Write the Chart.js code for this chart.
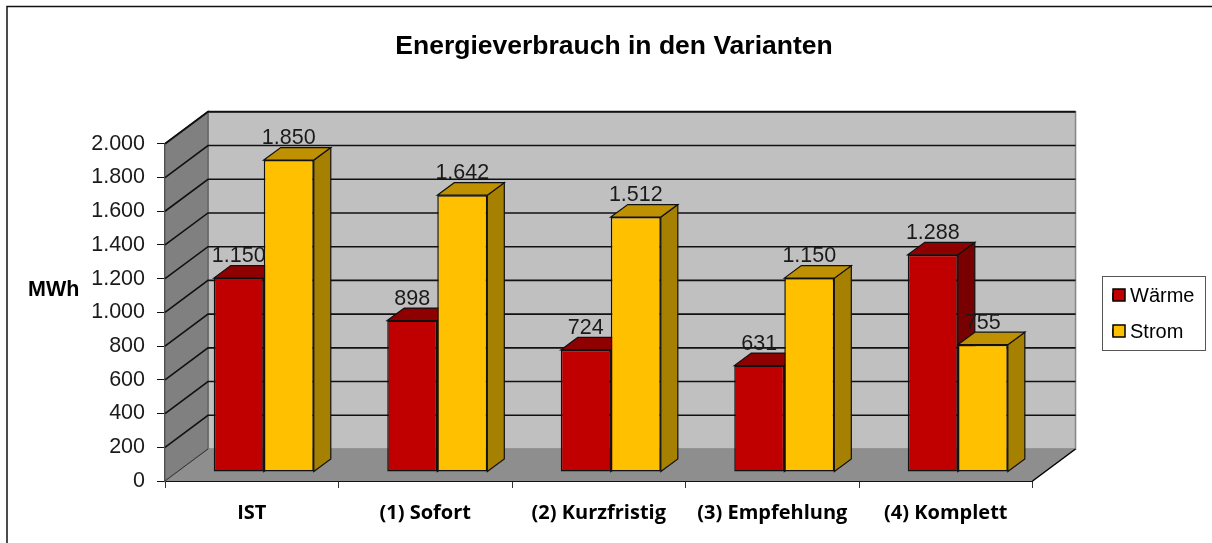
<!DOCTYPE html>
<html><head><meta charset="utf-8">
<style>html,body{margin:0;padding:0;background:#fff;overflow:hidden}canvas{display:block}</style>
<script src="https://cdn.jsdelivr.net/npm/chart.js@4/dist/chart.umd.min.js"></script>
</head><body><canvas id="c" width="1212" height="543"></canvas>
<script>
const categories = ["IST","(1) Sofort","(2) Kurzfristig","(3) Empfehlung","(4) Komplett"];
const waerme = [1150,898,724,631,1288];
const strom = [1850,1642,1512,1150,755];
const yTicks = [0,200,400,600,800,1000,1200,1400,1600,1800,2000];
const seriesNames = ["Wärme","Strom"];
const fmt = v => String(v).replace(/\B(?=(\d{3})+$)/g,".");

const WALL = {dx:43, dy:-32}, BAR = {dx:12, dy:-9}, SIDE = {dx:17, dy:-12.5};
const SHADES = [{top:"#8F0000",side:"#780000"},{top:"#BF9000",side:"#A68000"}];
const LEG = {left:1102,right:1205,top:276,bottom:350,itemX:1113,pad:16};

function poly(ctx,pts,fill,stroke,lw){
  ctx.beginPath();pts.forEach((p,i)=>i?ctx.lineTo(p[0],p[1]):ctx.moveTo(p[0],p[1]));ctx.closePath();
  if(fill){ctx.fillStyle=fill;ctx.fill();}
  if(stroke){ctx.strokeStyle=stroke;ctx.lineWidth=lw||1;ctx.stroke();}
}
function line(ctx,pts,color,lw){
  ctx.beginPath();pts.forEach((p,i)=>i?ctx.lineTo(p[0],p[1]):ctx.moveTo(p[0],p[1]));
  ctx.strokeStyle=color;ctx.lineWidth=lw;ctx.stroke();
}
const scene = {
  id:"scene",
  afterLayout(chart){
    if(chart.titleBlock){chart.titleBlock.left=16;chart.titleBlock.right=1212;}
    const l=chart.legend,w=l.width;
    l.left=LEG.itemX-LEG.pad;l.right=l.left+w;
    l.top+=2;l.bottom+=2;
  },
  beforeDatasetsDraw(chart){
    const {ctx,scales:{x,y}}=chart, L=x.left,R=x.right,B=y.bottom,T=y.top,dx=WALL.dx,dy=WALL.dy;
    ctx.save();
    poly(ctx,[[L+dx,T+dy],[R+dx,T+dy],[R+dx,B+dy],[L+dx,B+dy]],"#C0C0C0","#868686",1.5);
    poly(ctx,[[L,T],[L+dx,T+dy],[L+dx,B+dy],[L,B]],"#808080","#666666",1.5);
    poly(ctx,[[L,B],[L+dx,B+dy],[R+dx,B+dy],[R,B]],"#8E8E8E");
    line(ctx,[[L,B],[L+dx,B+dy]],"#333333",1);
    line(ctx,[[R,B],[R+dx,B+dy]],"#000000",1.5);
    yTicks.slice(1).forEach(v=>{
      const py=y.getPixelForValue(v);
      line(ctx,[[L,py],[L+dx,py+dy],[R+dx,py+dy]],"#111111",v===yTicks[yTicks.length-1]?2:1.6);
    });
    const count=categories.length;
    for(let i=0;i<count;i++){
      [0,1].forEach(d=>{
        const el=chart.getDatasetMeta(d).data[i];
        const xl=el.x-el.width/2+BAR.dx,xr=el.x+el.width/2+BAR.dx,yt=el.y+BAR.dy,yb=el.base+BAR.dy;
        const s=SHADES[d],k="#111111";
        poly(ctx,[[xr,yt],[xr+SIDE.dx,yt+SIDE.dy],[xr+SIDE.dx,yb+SIDE.dy],[xr,yb]],s.side,k,1.2);
        poly(ctx,[[xl,yt],[xl+SIDE.dx,yt+SIDE.dy],[xr+SIDE.dx,yt+SIDE.dy],[xr,yt]],s.top,k,1.2);
      });
    }
    ctx.restore();
  },
  beforeDatasetDraw(chart){chart.ctx.save();chart.ctx.translate(BAR.dx,BAR.dy);},
  afterDatasetDraw(chart){chart.ctx.restore();},
  afterDatasetsDraw(chart){
    const {ctx}=chart;
    ctx.save();
    ctx.font="21.5px 'Liberation Sans'";ctx.fillStyle="#1a1a1a";ctx.textAlign="center";ctx.textBaseline="middle";
    [0,1].forEach(d=>{
      chart.getDatasetMeta(d).data.forEach((el,i)=>{
        const v=chart.data.datasets[d].data[i];
        ctx.fillText(fmt(v),el.x+BAR.dx,el.y+BAR.dy-22);
      });
    });
    ctx.restore();
  },
  afterDraw(chart){
    const {ctx}=chart;
    ctx.save();
    line(ctx,[[7,543],[7,6.5],[1212,6.5]],"#111111",1.5);
    ctx.font="bold 21.5px 'Liberation Sans'";ctx.fillStyle="#000";ctx.textAlign="left";ctx.textBaseline="alphabetic";
    ctx.fillText("MWh",28,296);
    ctx.strokeStyle="#555";ctx.lineWidth=1;
    ctx.strokeRect(LEG.left+.5,LEG.top+.5,LEG.right-LEG.left,LEG.bottom-LEG.top);
    [0,1].forEach(d=>{
      const yc=d?331:295;
      ctx.fillStyle=chart.data.datasets[d].backgroundColor;
      ctx.fillRect(LEG.itemX,yc-6,12,12);
      ctx.strokeStyle="#000";ctx.lineWidth=1.5;ctx.strokeRect(LEG.itemX,yc-6,12,12);
    });
    ctx.restore();
  }
};
new Chart(document.getElementById("c"),{
  type:"bar",
  data:{labels:categories,datasets:[
    {label:seriesNames[0],data:waerme,backgroundColor:"#C00000",borderColor:"#111111",borderWidth:1.5,borderSkipped:false},
    {label:seriesNames[1],data:strom,backgroundColor:"#FFC000",borderColor:"#111111",borderWidth:1.5,borderSkipped:false}
  ]},
  options:{
    responsive:false,animation:false,
    layout:{autoPadding:false,padding:{left:0,right:72,top:0,bottom:0}},
    datasets:{bar:{categoryPercentage:0.5767,barPercentage:1}},
    plugins:{
      tooltip:{enabled:false},
      title:{display:true,text:"Energieverbrauch in den Varianten",color:"#000",
        font:{family:"'Liberation Sans'",size:26.5,weight:"bold"},padding:{top:31,bottom:81}},
      legend:{position:"right",fullSize:false,
        labels:{boxWidth:7,boxHeight:6,padding:LEG.pad,color:"#000",font:{family:"'Liberation Sans'",size:20}}}
    },
    scales:{
      x:{offset:true,
        grid:{display:true,drawOnChartArea:false,drawTicks:true,tickLength:7,color:"#333",offset:true},
        border:{display:true,color:"#111",width:2},
        ticks:{color:"#000",padding:13,maxRotation:0,autoSkip:false,font:{family:"'Open Sans'",size:20,weight:"bold"}},
        afterFit(s){s.height=62;}},
      y:{min:0,max:2000,
        grid:{drawOnChartArea:false,drawTicks:true,tickLength:8,color:"#111"},
        border:{display:true,color:"#111",width:1.5},
        afterBuildTicks(s){s.ticks=yTicks.map(v=>({value:v}));},
        ticks:{color:"#1a1a1a",padding:12,font:{family:"'Liberation Sans'",size:21.5},callback:v=>fmt(v)},
        afterFit(s){s.width=165;}}
    }
  },
  plugins:[scene]
});
</script></body></html>
